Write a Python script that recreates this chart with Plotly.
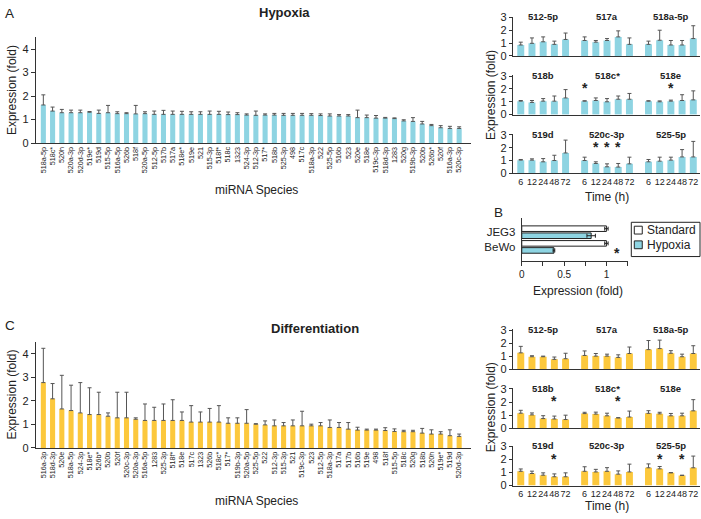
import plotly.graph_objects as go

W, H = 701, 519
FONT = "Liberation Sans, Arial, sans-serif"
CYAN = "#8ed4e2"
YELLOW = "#fcc83c"
AXC = "#333333"
ERRC = "#555555"
TXT = "#222222"

# ---------------- data ----------------
hyp_names = ["518a-5p", "518c*", "520h", "520a-3p", "520d-3p", "519e*", "519d", "515-5p", "516a-5p", "526b",
             "518f", "520a-5p", "512-5p", "517b", "517a", "518e*", "519e", "521", "515-3p", "518f*",
             "518c", "1323", "524-3p", "512-3p", "517*", "518b", "525-3p", "498", "517c", "518a-3p",
             "522", "525-5p", "516b", "523", "520e", "518e", "519c-3p", "518d-3p", "1283", "520g",
             "519b-3p", "520b", "526b*", "520f", "516a-3p", "520c-3p"]
hyp_vals = [1.62, 1.36, 1.29, 1.29, 1.29, 1.31, 1.26, 1.29, 1.25, 1.25,
            1.24, 1.25, 1.22, 1.22, 1.22, 1.22, 1.22, 1.22, 1.22, 1.22,
            1.21, 1.21, 1.19, 1.18, 1.19, 1.19, 1.18, 1.18, 1.18, 1.18,
            1.17, 1.15, 1.15, 1.15, 1.08, 1.08, 1.06, 1.06, 1.04, 0.94,
            0.92, 0.81, 0.74, 0.65, 0.62, 0.62]
hyp_errs = [0.43, 0.17, 0.14, 0.11, 0.11, 0.03, 0.14, 0.31, 0.08, 0.04,
            0.36, 0.08, 0.14, 0.17, 0.14, 0.13, 0.11, 0.11, 0.14, 0.13,
            0.11, 0.08, 0.05, 0.18, 0.05, 0.07, 0.08, 0.08, 0.08, 0.07,
            0.07, 0.09, 0.06, 0.06, 0.32, 0.11, 0.11, 0.03, 0.03, 0.05,
            0.16, 0.11, 0.05, 0.09, 0.09, 0.07]

diff_names = ["516a-3p", "518d-3p", "520e", "518a-5p", "524-3p", "518e*", "526b*", "520b", "520f", "520c-3p",
              "520a-3p", "516a-5p", "1283", "525-3p", "518f*", "518e", "517c", "1323", "526b", "518c*",
              "517*", "519b-3p", "520a-5p", "525-5p", "522", "512-3p", "515-3p", "521", "519c-3p", "523",
              "512-5p", "518a-3p", "517a", "517b", "516b", "519e", "498", "518f", "515-5p", "518c",
              "520g", "518b", "520h", "519e*", "519d", "520d-3p"]
diff_vals = [2.78, 2.09, 1.66, 1.59, 1.49, 1.42, 1.42, 1.35, 1.28, 1.28,
             1.22, 1.17, 1.17, 1.17, 1.17, 1.17, 1.10, 1.10, 1.10, 1.10,
             1.05, 1.05, 1.05, 1.01, 0.98, 0.94, 0.94, 0.94, 0.94, 0.94,
             0.94, 0.87, 0.87, 0.80, 0.76, 0.76, 0.76, 0.74, 0.70, 0.69,
             0.69, 0.63, 0.59, 0.59, 0.52, 0.49]
diff_errs = [1.46, 0.65, 1.43, 1.08, 1.29, 1.14, 0.95, 0.14, 1.09, 1.09,
             0.06, 0.70, 0.56, 0.70, 0.88, 0.36, 0.70, 0.43, 0.58, 0.70,
             0.23, 0.23, 0.58, 0.02, 0.17, 0.25, 0.14, 0.25, 0.62, 0.07,
             0.14, 0.32, 0.21, 0.28, 0.12, 0.04, 0.04, 0.12, 0.11, 0.06,
             0.06, 0.20, 0.18, 0.10, 0.25, 0.10]

time_labels = ["6", "12", "24", "48", "72"]
ts_names = ["512-5p", "517a", "518a-5p", "518b", "518c*", "518e", "519d", "520c-3p", "525-5p"]

hyp_ts_vals = [[0.85, 0.98, 1.10, 0.90, 1.28], [1.20, 1.07, 1.20, 1.48, 0.90], [0.90, 1.22, 0.85, 0.85, 1.35],
               [1.05, 0.95, 1.05, 1.05, 1.30], [1.05, 1.10, 1.00, 1.20, 1.20], [1.05, 1.00, 1.05, 1.10, 1.15],
               [1.03, 1.03, 0.90, 1.00, 1.59], [1.00, 0.77, 0.51, 0.49, 0.74], [0.90, 0.95, 1.03, 1.28, 1.28]]
hyp_ts_errs = [[0.22, 0.42, 0.38, 0.25, 0.50], [0.28, 0.13, 0.15, 0.47, 0.50], [0.25, 0.78, 0.35, 0.35, 1.00],
               [0.05, 0.15, 0.20, 0.40, 0.65], [0.03, 0.20, 0.25, 0.25, 0.45], [0.03, 0.07, 0.08, 0.45, 0.70],
               [0.05, 0.10, 0.25, 0.41, 1.00], [0.26, 0.13, 0.23, 0.28, 0.52], [0.18, 0.31, 0.23, 0.57, 1.21]]
hyp_ts_sig = [[], [], [], [], [0], [2], [], [1, 2, 3], []]

diff_ts_vals = [[1.25, 0.95, 0.95, 0.75, 0.80], [1.05, 1.00, 1.00, 0.90, 1.20], [1.50, 1.58, 1.22, 0.95, 1.20],
                [1.15, 1.02, 0.74, 0.71, 0.67], [1.12, 1.08, 0.95, 0.79, 0.86], [1.14, 1.10, 0.95, 0.95, 1.33],
                [1.10, 0.93, 0.80, 0.68, 0.68], [1.10, 1.05, 1.10, 0.88, 1.05], [1.37, 1.29, 0.98, 0.78, 1.37]]
diff_ts_errs = [[0.50, 0.08, 0.05, 0.18, 0.42], [0.35, 0.20, 0.15, 0.20, 0.50], [0.70, 0.65, 0.20, 0.20, 0.60],
                [0.22, 0.15, 0.22, 0.22, 0.33], [0.10, 0.15, 0.20, 0.02, 0.45], [0.20, 0.12, 0.18, 0.20, 0.85],
                [0.18, 0.18, 0.18, 0.22, 0.30], [0.35, 0.20, 0.28, 0.25, 0.60], [0.30, 0.18, 0.02, 0.02, 0.90]]
diff_ts_sig = [[], [], [], [3], [3], [], [3], [], [1, 3]]

cell_lines = ["JEG3", "BeWo"]
std_vals = [1.0, 1.0]
std_errs = [0.02, 0.02]
hypB_vals = [0.82, 0.38]
hypB_errs = [0.05, 0.01]
hypB_sig = [False, True]

# ---------------- helpers ----------------
def dom_x(l, r):
    return [l / W, r / W]

def dom_y(t, b):
    return [1 - b / H, 1 - t / H]

fig = go.Figure()
layout = dict(width=W, height=H, margin=dict(l=0, r=0, t=0, b=0), autosize=False,
              paper_bgcolor="white", plot_bgcolor="white", showlegend=False,
              font=dict(family=FONT, color=TXT), barmode="overlay")
annotations = []
shapes = []

def ann(text, x, y, size=11, bold=False, angle=0, xref="paper", yref="paper", xa="center", ya="middle", **kw):
    if xref == "paper":
        x = x / W
    if yref == "paper":
        y = 1 - y / H
    annotations.append(dict(text=("<b>%s</b>" % text) if bold else text, x=x, y=y, xref=xref, yref=yref,
                            xanchor=xa, yanchor=ya, showarrow=False, textangle=angle,
                            font=dict(family=FONT, size=size, color=TXT), **kw))

def err(arr):
    return dict(type="data", array=arr, arrayminus=[0] * len(arr), symmetric=False,
                color=ERRC, thickness=1, width=2)

def base_axis(**kw):
    d = dict(showgrid=False, zeroline=False, showline=True, linecolor=AXC, linewidth=1,
             tickfont=dict(family=FONT, size=11, color=TXT), ticks="", fixedrange=True)
    d.update(kw)
    return d

# ---------------- panels A and C (species bars) ----------------
def species_panel(ax_id, names, vals, errs, color, top, bottom):
    xs = list(range(len(names)))
    fig.add_trace(go.Bar(x=xs, y=vals, error_y=err(errs), marker=dict(color=color, line=dict(width=0)),
                         width=0.55, xaxis="x%s" % ax_id, yaxis="y%s" % ax_id, hoverinfo="skip"))
    layout["xaxis%s" % ax_id] = base_axis(domain=dom_x(33, 470), range=[-0.81, 46.28], tickvals=xs,
                                          ticktext=names, tickangle=-90,
                                          tickfont=dict(family=FONT, size=7.2, color=TXT),
                                          anchor="y%s" % ax_id)
    layout["yaxis%s" % ax_id] = base_axis(domain=dom_y(top, bottom), range=[0, 4.5], tickvals=[0, 1, 2, 3, 4],
                                          ticks="outside", ticklen=4, tickcolor=AXC,
                                          anchor="x%s" % ax_id)

species_panel("", hyp_names, hyp_vals, hyp_errs, CYAN, 33, 141)
species_panel("2", diff_names, diff_vals, diff_errs, YELLOW, 344.5, 452.5)

# ---------------- time course small multiples ----------------
GAP = 5.7

def time_rows(first_ax, vals, errs, sigs, color, rows):
    for r, (top, bottom) in enumerate(rows):
        ax = first_ax + r
        for g in range(3):
            k = r * 3 + g
            xs = [g * GAP + j for j in range(5)]
            fig.add_trace(go.Bar(x=xs, y=vals[k], error_y=err(errs[k]),
                                 marker=dict(color=color, line=dict(width=0)), width=0.62,
                                 xaxis="x%d" % ax, yaxis="y%d" % ax, hoverinfo="skip"))
            ann(ts_names[k], g * GAP + 2, 3.05, size=9.5, bold=True, xref="x%d" % ax, yref="y%d" % ax, ya="middle")
            for j in sigs[k]:
                ann("*", g * GAP + j, 2.05, size=14, bold=True, xref="x%d" % ax, yref="y%d" % ax, ya="middle")
        last = r == len(rows) - 1
        tv, tt = [], []
        if last:
            for g in range(3):
                for j in range(5):
                    tv.append(g * GAP + j)
                    tt.append(time_labels[j])
        layout["xaxis%d" % ax] = base_axis(domain=dom_x(512, 700), range=[-0.71, 16.0], tickvals=tv, ticktext=tt,
                                           tickangle=0, tickfont=dict(family=FONT, size=9, color=TXT),
                                           anchor="y%d" % ax)
        layout["yaxis%d" % ax] = base_axis(domain=dom_y(top, bottom), range=[0, 3.05], tickvals=[0, 1, 2, 3],
                                           ticks="outside", ticklen=3, tickcolor=AXC, anchor="x%d" % ax)

time_rows(3, hyp_ts_vals, hyp_ts_errs, hyp_ts_sig, CYAN, [(12, 52), (72, 112), (132, 172)])
time_rows(6, diff_ts_vals, diff_ts_errs, diff_ts_sig, YELLOW, [(331.5, 372), (391.5, 432.5), (450.5, 491)])

# ---------------- panel B ----------------
fig.add_trace(go.Bar(y=cell_lines, x=std_vals, orientation="h", offset=0.04, width=0.38,
                     error_x=dict(type="data", array=std_errs, color="#222", thickness=1, width=2),
                     marker=dict(color="white", line=dict(color="#222", width=1)),
                     xaxis="x9", yaxis="y9", hoverinfo="skip"))
fig.add_trace(go.Bar(y=cell_lines, x=hypB_vals, orientation="h", offset=-0.44, width=0.38,
                     error_x=dict(type="data", array=hypB_errs, color="#222", thickness=1, width=2),
                     marker=dict(color=CYAN, line=dict(color="#222", width=1)),
                     xaxis="x9", yaxis="y9", hoverinfo="skip"))
layout["xaxis9"] = base_axis(domain=dom_x(521, 627.25), range=[0, 1.25],
                             tickvals=[0, 0.25, 0.5, 0.75, 1, 1.25], ticktext=["0", "", "0.5", "", "1", ""],
                             ticks="outside", ticklen=4, tickcolor=AXC,
                             tickfont=dict(family=FONT, size=10, color=TXT), anchor="y9")
layout["yaxis9"] = base_axis(domain=dom_y(218, 262), range=[-1.0, 1.93], type="category",
                             categoryorder="array", categoryarray=["BeWo", "JEG3"],
                             tickfont=dict(family=FONT, size=11.5, color=TXT), ticklabelstandoff=3, anchor="x9")
for i, s in enumerate(hypB_sig):
    if s:
        ann("*", 1.13, cell_lines[i], size=14, bold=True, xref="x9", yref="y9", ya="middle", yshift=-6)

# legend for B (drawn manually)
shapes.append(dict(type="rect", xref="paper", yref="paper", x0=631 / W, x1=700 / W, y0=1 - 257 / H, y1=1 - 222 / H,
                   line=dict(color="#222", width=1), fillcolor="white"))
shapes.append(dict(type="rect", xref="paper", yref="paper", x0=634 / W, x1=642 / W, y0=1 - 234 / H, y1=1 - 226 / H,
                   line=dict(color="#222", width=1), fillcolor="white"))
shapes.append(dict(type="rect", xref="paper", yref="paper", x0=634 / W, x1=642 / W, y0=1 - 249 / H, y1=1 - 241 / H,
                   line=dict(color="#222", width=1), fillcolor=CYAN))
ann("Standard", 645, 230, size=12, xa="left")
ann("Hypoxia", 645, 245, size=12, xa="left")

# ---------------- text ----------------
ann("A", 7, 9, size=13.5)
ann("B", 498, 212, size=13.5)
ann("C", 7, 327, size=13.5)
ann("Hypoxia", 283, 8, size=13, bold=True)
ann("Differentiation", 313, 330, size=13, bold=True)
ann("Expression (fold)", 9, 87, size=12, angle=-90)
ann("Expression (fold)", 9, 398, size=12, angle=-90)
ann("miRNA Species", 255, 189, size=12)
ann("miRNA Species", 255, 507, size=12)
ann("Expression (fold)", 490, 92, size=12, angle=-90)
ann("Expression (fold)", 490, 411, size=12, angle=-90)
ann("Time (h)", 607, 196, size=12)
ann("Time (h)", 607, 512, size=12)
ann("Expression (fold)", 577, 292, size=12)

layout["annotations"] = annotations
layout["shapes"] = shapes
fig.update_layout(**layout)
fig.write_html("out.html", config={"displayModeBar": False, "staticPlot": True},
               post_script="document.body.style.margin='0';document.body.style.padding='0';")
